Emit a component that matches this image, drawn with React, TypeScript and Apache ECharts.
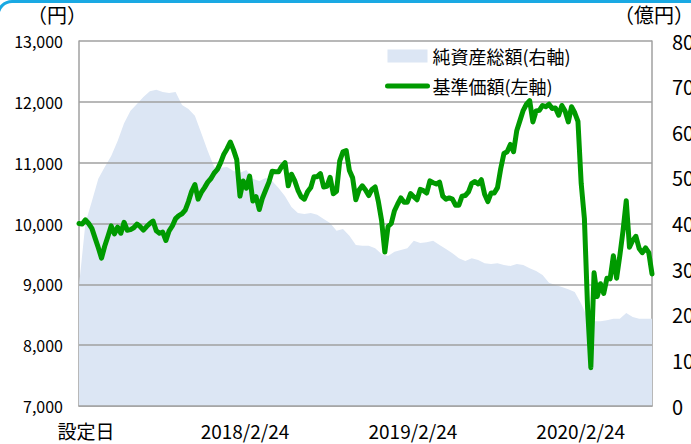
import React, { useEffect, useRef } from "react";
import * as echarts from "echarts";

// 基準価額 (円), weekly from 設定日
const priceValues: number[] = [
  10000, 9990, 10060, 10000, 9920, 9760, 9600, 9430, 9630, 9790,
  9960, 9830, 9940, 9840, 10020, 9890, 9900, 9930, 9990, 9950,
  9890, 9950, 10000, 10040, 9880, 9840, 9860, 9720, 9880, 9960,
  10080, 10130, 10160, 10220, 10360, 10530, 10640, 10400, 10510, 10590,
  10680, 10740, 10830, 10890, 11000, 11140, 11230, 11340, 11210, 11050,
  10450, 10700, 10580, 10780, 10370, 10440, 10230, 10420, 10550, 10680,
  10860, 10850, 10850, 10940, 11000, 10620, 10810, 10705, 10550, 10440,
  10400, 10520, 10590, 10770, 10770, 10820, 10600, 10610, 10760, 10490,
  10530, 11030, 11180, 11200, 10870, 10750, 10390, 10550, 10620, 10550,
  10460, 10560, 10600, 10360, 10050, 9530, 9950, 10000, 10210, 10320,
  10420, 10350, 10350, 10490, 10440, 10390, 10560, 10540, 10500, 10700,
  10670, 10650, 10680, 10450, 10400, 10420, 10400, 10300, 10300, 10450,
  10460, 10520, 10660, 10690, 10650, 10720, 10480, 10360, 10500, 10500,
  10590, 10900, 11150, 11180, 11300, 11180, 11530, 11695, 11860, 11960,
  12020, 11670, 11850, 11860, 11940, 11920, 11960, 11890, 11900, 11780,
  11940, 11850, 11670, 11920, 11820, 11680, 10660, 10080, 8600, 7630,
  9190, 8800, 9010, 8850, 9100, 9090, 9470, 9100, 9470, 9880,
  10375, 9610, 9720, 9790, 9590, 9520, 9600, 9520, 9170,
];

// 純資産総額 (億円), every two weeks from 設定日
const netAssetValues: number[] = [
  26.3, 40.1, 44.9, 49.8, 52.4, 54.8, 58.1, 62.0, 64.7, 66.2,
  67.7, 69.0, 69.3, 68.8, 68.6, 68.8, 66.0, 65.1, 63.6, 59.8,
  55.9, 52.4, 52.2, 52.4, 51.5, 51.1, 51.7, 49.8, 49.3, 50.0,
  49.3, 47.8, 46.0, 43.6, 42.3, 42.1, 42.3, 41.9, 41.0, 40.1,
  38.4, 38.8, 37.3, 35.3, 35.1, 35.1, 34.6, 33.3, 32.9, 33.8,
  34.2, 34.6, 36.2, 35.7, 35.9, 36.2, 35.3, 34.4, 33.5, 32.4,
  31.8, 32.4, 32.0, 31.3, 31.1, 31.3, 30.9, 30.7, 31.1, 30.9,
  30.2, 29.6, 28.7, 27.0, 26.5, 26.1, 25.6, 25.0, 22.4, 19.3,
  18.6, 18.6, 18.8, 19.1, 19.1, 20.4, 19.5, 19.1, 19.1, 19.1,
];

const startDate = new Date(2017, 1, 28).getTime();
const WEEK = 7 * 86400000;
const labelDates: number[] = [
  startDate,
  new Date(2018, 1, 24).getTime(),
  new Date(2019, 1, 24).getTime(),
  new Date(2020, 1, 24).getTime(),
];
const leftTicks: number[] = [7000, 8000, 9000, 10000, 11000, 12000, 13000];

const seriesNames = ["純資産総額(右軸)", "基準価額(左軸)"];
const FONT = '"Noto Sans CJK JP", "Noto Sans", sans-serif';

export default function App() {
  const ref = useRef<HTMLDivElement>(null);
  useEffect(() => {
    if (!ref.current) return;
    const chart = echarts.init(ref.current, null, { renderer: "svg" });
    const priceData = priceValues.map((v, i) => [startDate + i * WEEK, v]);
    const assetData = netAssetValues.map((v, i) => [startDate + i * 2 * WEEK, v]);
    const endDate = startDate + (priceValues.length - 1) * WEEK;
    chart.setOption({
      animation: false,
      textStyle: { fontFamily: FONT },
      grid: {
        left: 79,
        right: 39,
        top: 41,
        bottom: 38,
        containLabel: false,
        outerBoundsMode: "none",
      },
      legend: {
        orient: "vertical",
        left: 380,
        top: 42,
        itemWidth: 40,
        itemHeight: 13,
        itemGap: 12,
        selectedMode: false,
        textStyle: { fontSize: 18, color: "#000", fontFamily: FONT, lineHeight: 18 },
        data: [
          { name: seriesNames[0], icon: "rect", itemStyle: { color: "#dce6f4" } },
          {
            name: seriesNames[1],
            itemStyle: { opacity: 0 },
            lineStyle: { width: 5, color: "#009a00", cap: "round" },
          },
        ],
      },
      xAxis: {
        type: "value",
        min: startDate,
        max: endDate,
        splitLine: { show: false },
        axisLine: { lineStyle: { color: "#a0a0a0", width: 1.5 } },
        axisTick: { show: false },
        axisLabel: {
          customValues: labelDates,
          margin: 15,
          fontSize: 19,
          color: "#000",
          fontFamily: FONT,
          hideOverlap: false,
          formatter: (v: number) => {
            if (v === startDate) return "{s|設定日}";
            const d = new Date(v);
            return `${d.getFullYear()}/${d.getMonth() + 1}/${d.getDate()}`;
          },
          rich: {
            s: { fontSize: 19, color: "#000", fontFamily: FONT, padding: [0, 0, 0, 14] },
          },
        },
      },
      yAxis: [
        {
          type: "value",
          min: 7000,
          max: 13000,
          interval: 1000,
          splitLine: { show: false },
          axisLine: { show: true, lineStyle: { color: "#a0a0a0", width: 1.5 } },
          axisTick: { show: false },
          axisLabel: {
            margin: 16,
            fontSize: 16,
            color: "#000",
            fontFamily: FONT,
            formatter: (v: number) => v.toLocaleString("en-US"),
          },
        },
        {
          type: "value",
          min: 0,
          max: 80,
          interval: 10,
          position: "right",
          splitLine: { show: false },
          axisLine: { show: true, lineStyle: { color: "#a0a0a0", width: 1.5 } },
          axisTick: { show: false },
          axisLabel: { margin: 20, fontSize: 20, color: "#000", fontFamily: FONT },
        },
      ],
      graphic: [
        {
          type: "rect",
          shape: { x: -2, y: 1.5, width: 720, height: 600, r: 14 },
          style: { fill: "none", stroke: "#1aa9e3", lineWidth: 3 },
          silent: true,
        },
        {
          type: "text",
          left: 27,
          top: 4,
          style: { text: "（円）", fontSize: 20, fill: "#000", fontFamily: FONT },
        },
        {
          type: "text",
          right: -3,
          top: 4,
          style: { text: "（億円）", fontSize: 20, fill: "#000", fontFamily: FONT },
        },
      ],
      series: [
        {
          name: seriesNames[0],
          type: "line",
          yAxisIndex: 1,
          data: assetData,
          symbol: "none",
          lineStyle: { width: 0 },
          itemStyle: { color: "#dce6f4" },
          areaStyle: { color: "#dce6f4", opacity: 1 },
          z: 1,
        },
        {
          name: seriesNames[1],
          type: "line",
          yAxisIndex: 0,
          data: priceData,
          symbol: "none",
          lineStyle: { width: 5, color: "#009a00", join: "round", cap: "round" },
          itemStyle: { color: "#009a00" },
          z: 10,
          markLine: {
            silent: true,
            symbol: "none",
            label: { show: false },
            lineStyle: { color: "#a0a0a0", width: 1.5, type: "solid" },
            data: leftTicks.map((t) => ({ yAxis: t })),
          },
        },
      ],
    });
    return () => chart.dispose();
  }, []);
  return (
    <div
      ref={ref}
      style={{ position: "fixed", left: 0, top: 0, width: 691, height: 444, background: "#fff" }}
    />
  );
}
